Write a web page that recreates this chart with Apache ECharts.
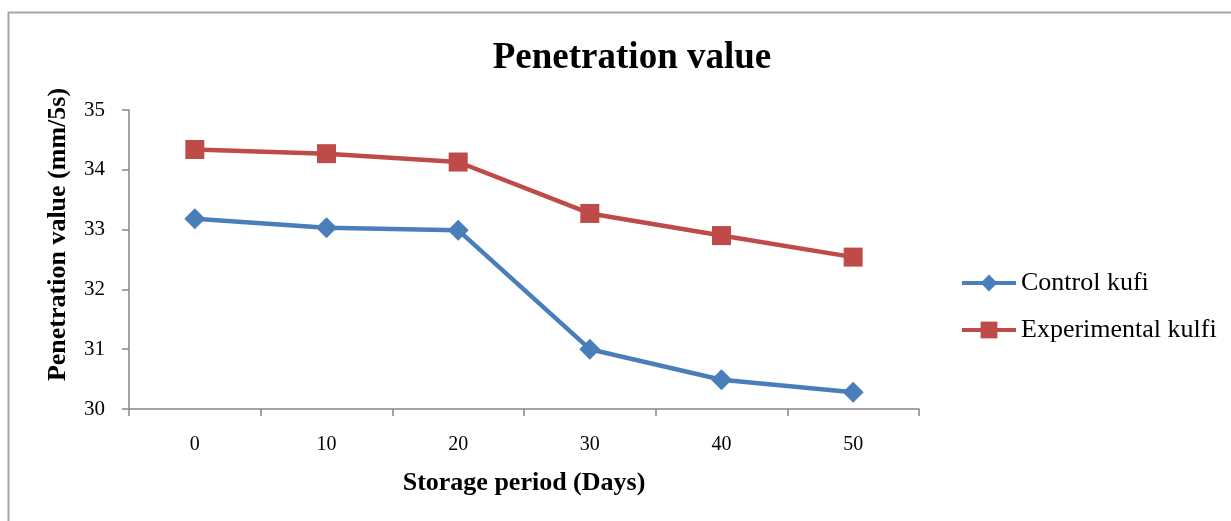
<!DOCTYPE html>
<html>
<head>
<meta charset="utf-8">
<script src="https://cdn.jsdelivr.net/npm/echarts@6/dist/echarts.min.js"></script>
<style>
  html, body { margin: 0; padding: 0; background: #ffffff; }
  #chart { width: 1231px; height: 521px; }
</style>
</head>
<body>
<div id="chart"></div>
<script>
// Storage period categories (days)
const days = ['0', '10', '20', '30', '40', '50'];
// Penetration value (mm/5s)
const controlKufi = [33.18, 33.03, 32.99, 31.0, 30.49, 30.28];
const experimentalKulfi = [34.34, 34.27, 34.13, 33.27, 32.9, 32.54];

const serif = '"Liberation Serif", "Times New Roman", serif';
const axisColor = '#868686';

const chart = echarts.init(document.getElementById('chart'), null, { renderer: 'canvas' });

chart.setOption({
  backgroundColor: '#ffffff',
  animation: false,
  title: {
    text: 'Penetration value',
    left: 627,
    top: 35,
    textAlign: 'center',
    textStyle: { fontFamily: serif, fontSize: 37, fontWeight: 'bold', color: '#000000' }
  },
  graphic: [{
    type: 'rect',
    shape: { x: 8.5, y: 12.5, width: 1240, height: 520 },
    style: { fill: 'none', stroke: '#a6a6a6', lineWidth: 2 },
    silent: true
  }],
  legend: {
    orient: 'vertical',
    left: 960,
    top: 270,
    padding: 0,
    itemWidth: 54,
    itemHeight: 21,
    itemGap: 21,
    lineStyle: { width: 4 },
    textStyle: { fontFamily: serif, fontSize: 26, color: '#000000' },
    data: ['Control kufi', 'Experimental kulfi']
  },
  grid: { left: 129, right: 312, top: 110, bottom: 112, containLabel: false },
  xAxis: {
    type: 'category',
    data: days,
    boundaryGap: true,
    name: 'Storage period (Days)',
    nameLocation: 'middle',
    nameGap: 61,
    nameTextStyle: { fontFamily: serif, fontSize: 26, fontWeight: 'bold', color: '#000000' },
    axisLine: { lineStyle: { color: axisColor, width: 1.5 } },
    axisTick: { show: true, alignWithLabel: false, length: 7, lineStyle: { color: axisColor, width: 1.5 } },
    axisLabel: { fontFamily: serif, fontSize: 20, color: '#000000', margin: 26 },
    splitLine: { show: false }
  },
  yAxis: {
    type: 'value',
    min: 30,
    max: 35,
    interval: 1,
    name: 'Penetration value (mm/5s)',
    nameLocation: 'middle',
    nameGap: 58,
    nameTextStyle: { fontFamily: serif, fontSize: 26, fontWeight: 'bold', color: '#000000', padding: [0, 0, 0, 50] },
    axisLine: { show: true, lineStyle: { color: axisColor, width: 1.5 } },
    axisTick: { show: true, length: 7, lineStyle: { color: axisColor, width: 1.5 } },
    axisLabel: { fontFamily: serif, fontSize: 21, color: '#000000', margin: 24 },
    splitLine: { show: false }
  },
  series: [
    {
      name: 'Control kufi',
      type: 'line',
      data: controlKufi,
      symbol: 'diamond',
      symbolSize: 21,
      color: '#4a7ebb',
      lineStyle: { width: 4.5, color: '#4a7ebb' },
      itemStyle: { color: '#4a7ebb' }
    },
    {
      name: 'Experimental kulfi',
      type: 'line',
      data: experimentalKulfi,
      symbol: 'rect',
      symbolSize: 19,
      color: '#be4b48',
      lineStyle: { width: 4.5, color: '#be4b48' },
      itemStyle: { color: '#be4b48' }
    }
  ]
});
</script>
</body>
</html>
